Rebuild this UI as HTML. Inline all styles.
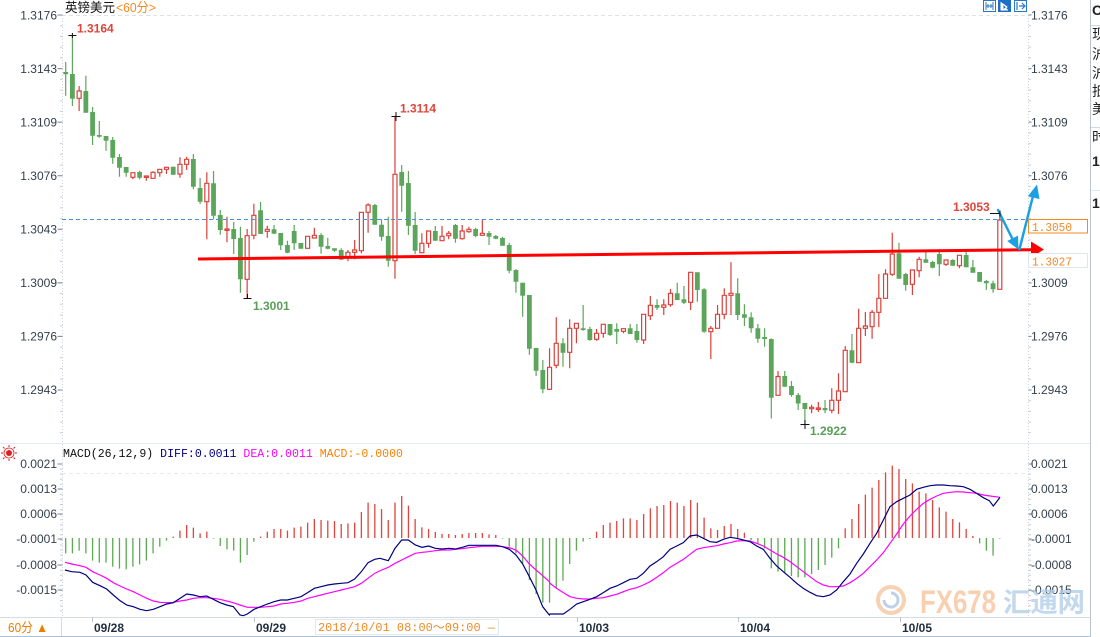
<!DOCTYPE html>
<html><head><meta charset="utf-8">
<style>
html,body{margin:0;padding:0;background:#fff;width:1100px;height:637px;overflow:hidden}
svg{display:block}
text{font-family:"Liberation Sans","Noto Sans CJK SC",sans-serif}
.ax{font-size:12px;fill:#34404c}
.mono{font-family:"Liberation Mono","Noto Sans CJK SC",monospace}
</style></head><body>
<svg id="s" width="1100" height="637" viewBox="0 0 1100 637" xmlns="http://www.w3.org/2000/svg">
<rect width="1100" height="637" fill="#fff"/>
<!-- grid / frame -->
<line x1="62" y1="15.5" x2="1028" y2="15.5" stroke="#dde2e7" stroke-dasharray="4,3"/>
<line x1="62" y1="473.5" x2="1028" y2="473.5" stroke="#e8ecf0" stroke-dasharray="4,3"/>
<line x1="0" y1="443.5" x2="1090" y2="443.5" stroke="#e6ebf0"/>
<line x1="62.5" y1="15" x2="62.5" y2="617" stroke="#cfd8e1" stroke-dasharray="1,2"/>
<line x1="1028.5" y1="15" x2="1028.5" y2="617" stroke="#cfd8e1" stroke-dasharray="1,2"/>
<g id="ticks" stroke="#9aa6b2" stroke-width="1"></g>

<!-- header -->
<text x="65" y="12" font-size="13" fill="#111" textLength="50" lengthAdjust="spacingAndGlyphs">英镑美元</text>
<text x="116" y="12" font-size="13" fill="#f08a1c" textLength="40" lengthAdjust="spacingAndGlyphs">&lt;60分&gt;</text>

<!-- top right icons -->
<g>
<rect x="983.5" y="0.5" width="12" height="11" fill="#fff" stroke="#2a77c9"/>
<path d="M986 2v8M993 2v8M986 6h7M988 4v4M991 4v4" stroke="#2a77c9" stroke-width="1"/>
<rect x="998" y="0" width="13" height="12" fill="#1f6fc5"/>
<path d="M1001 2v8h7M1003 4l4 3-4 3z" stroke="#fff" fill="#fff" stroke-width="1"/>
<rect x="1014.5" y="0.5" width="12" height="11" fill="#fff" stroke="#2a77c9"/>
<path d="M1017 2v8M1019 6h6M1022 3l3 3-3 3" stroke="#2a77c9" fill="none" stroke-width="1.2"/>
</g>

<!-- left price labels -->
<g class="ax" text-anchor="end">
<text x="57" y="19.5">1.3176</text>
<text x="57" y="73">1.3143</text>
<text x="57" y="126.5">1.3109</text>
<text x="57" y="180">1.3076</text>
<text x="57" y="233.5">1.3043</text>
<text x="57" y="287">1.3009</text>
<text x="57" y="340.5">1.2976</text>
<text x="57" y="394">1.2943</text>
</g>
<!-- right price labels -->
<g class="ax">
<text x="1031" y="19.5">1.3176</text>
<text x="1031" y="73">1.3143</text>
<text x="1031" y="126.5">1.3109</text>
<text x="1031" y="180">1.3076</text>
<text x="1031" y="287">1.3009</text>
<text x="1031" y="340.5">1.2976</text>
<text x="1031" y="394">1.2943</text>
</g>

<!-- MACD labels -->
<g class="ax" text-anchor="end">
<text x="57" y="468">0.0021</text>
<text x="57" y="493">0.0013</text>
<text x="57" y="518">0.0006</text>
<text x="57" y="543">-0.0001</text>
<text x="57" y="569">-0.0008</text>
<text x="57" y="594">-0.0015</text>
</g>
<g class="ax">
<text x="1031" y="468">0.0021</text>
<text x="1031" y="493">0.0013</text>
<text x="1031" y="518">0.0006</text>
<text x="1031" y="543">-0.0001</text>
<text x="1031" y="569">-0.0008</text>
<text x="1031" y="594">-0.0015</text>
</g>

<!-- MACD header -->
<g transform="translate(9,453)">
<circle r="3" fill="#e02020"/>
<circle r="5" fill="none" stroke="#e02020" stroke-width="0.8"/>
<path d="M0 -8v2M0 6v2M-8 0h2M6 0h2M-6 -6l1.5 1.5M4.5 4.5l1.5 1.5M6 -6l-1.5 1.5M-4.5 4.5l-1.5 1.5" stroke="#e02020" stroke-width="1"/>
</g>
<text class="mono" x="63" y="457" font-size="11.6" textLength="340" lengthAdjust="spacingAndGlyphs"><tspan fill="#111">MACD(26,12,9) </tspan><tspan fill="#000080">DIFF:0.0011 </tspan><tspan fill="#ff00ff">DEA:0.0011 </tspan><tspan fill="#ff8000">MACD:-0.0000</tspan></text>

<!-- candles and macd (generated shapes) -->
<g id="cg"></g>
<g id="mg"></g>

<!-- 1.3050 dashed line -->
<line x1="62" y1="219.5" x2="1028" y2="219.5" stroke="#4a8ad8" stroke-dasharray="4,3" stroke-width="1"/>

<!-- red trend line -->
<line x1="198" y1="259" x2="1032" y2="249.7" stroke="#ff0000" stroke-width="3"/>
<polygon points="1044,249.5 1031,241.5 1031,257.5" fill="#ff0000"/>

<!-- blue arrows -->
<g stroke="#1ba1e2" stroke-width="2.5" fill="#1ba1e2" stroke-linecap="round">
<line x1="998" y1="210" x2="1013" y2="240"/>
<polygon points="1018.5,249.5 1007.2,241 1018,235.6" stroke="none"/>
<line x1="1019.5" y1="249" x2="1033" y2="196"/>
<polygon points="1037,184.5 1039.5,199.1 1027.9,196.1" stroke="none"/>
</g>

<!-- price boxes -->
<rect x="1028.5" y="219.5" width="59" height="13.5" fill="#fff" stroke="#f08a24"/>
<text class="mono" x="1032" y="231" font-size="12" fill="#f08a24" textLength="40" lengthAdjust="spacingAndGlyphs">1.3050</text>
<rect x="1028.5" y="253.5" width="59" height="14" fill="#fff" stroke="#dfe5ea"/>
<text class="mono" x="1032" y="265.5" font-size="12" fill="#f08a24" textLength="40" lengthAdjust="spacingAndGlyphs">1.3027</text>

<!-- high/low markers -->
<g stroke="#111" stroke-width="1">
<path d="M68.4 35.5h8M72.4 33v5"/>
<path d="M391.5 116.5h9M396 112v9"/>
<path d="M243.5 298.5h8M247.5 294v4.5"/>
<path d="M800.5 424.5h9M805 420v9"/>
<path d="M990 213.5h10M1000 210.5v6"/>
</g>
<g font-size="12" font-weight="bold">
<text x="77" y="32.5" fill="#e0453a">1.3164</text>
<text x="400" y="112.5" fill="#e0453a">1.3114</text>
<text x="253" y="310" fill="#5a9e5a">1.3001</text>
<text x="810" y="435" fill="#5a9e5a">1.2922</text>
<text x="953" y="211" fill="#e0453a">1.3053</text>
</g>

<!-- watermark -->
<g opacity="0.75">
<circle cx="891" cy="600" r="13" fill="none" stroke="#f5c29c" stroke-width="4"/>
<path d="M884 600a7 7 0 1 0 7 -7" fill="none" stroke="#a9c2e0" stroke-width="3"/>
<text x="920" y="613" font-size="32" font-weight="bold" fill="#f8bf95" textLength="76" lengthAdjust="spacingAndGlyphs">FX678</text>
<text x="1003" y="612" font-size="27" font-weight="bold" fill="#aecbe8" textLength="82" lengthAdjust="spacingAndGlyphs" font-family="'Noto Sans CJK SC',sans-serif">汇通网</text>
</g>

<!-- bottom axis -->
<line x1="0" y1="617.5" x2="1090" y2="617.5" stroke="#d3dbe3"/>
<line x1="61.5" y1="617" x2="61.5" y2="637" stroke="#d3dbe3"/>
<line x1="0" y1="636.5" x2="1100" y2="636.5" stroke="#a9c0da"/>
<text x="8" y="632" font-size="13" fill="#f07c00" textLength="40" lengthAdjust="spacingAndGlyphs">60分 ▲</text>
<g stroke="#b7c2cd">
<line x1="92.5" y1="617" x2="92.5" y2="622"/>
<line x1="254.5" y1="617" x2="254.5" y2="622"/>
<line x1="577.5" y1="617" x2="577.5" y2="622"/>
<line x1="738.5" y1="617" x2="738.5" y2="622"/>
<line x1="900.5" y1="617" x2="900.5" y2="622"/>
</g>
<g font-size="12" font-weight="bold" fill="#1f2d3d">
<text x="94" y="632">09/28</text>
<text x="256" y="632">09/29</text>
<text x="579" y="632">10/03</text>
<text x="740" y="632">10/04</text>
<text x="902" y="632">10/05</text>
</g>
<rect x="315.5" y="619.5" width="183" height="15" fill="#fff" stroke="#e3e8ed"/>
<text class="mono" x="318" y="631" font-size="11.5" fill="#f08a24" textLength="177" lengthAdjust="spacingAndGlyphs">2018/10/01 08:00～09:00 —</text>

<!-- right panel -->
<rect x="1090" y="0" width="10" height="637" fill="#fff"/>
<line x1="1090.5" y1="0" x2="1090.5" y2="637" stroke="#b9c5d1"/>
<line x1="1091" y1="25.5" x2="1100" y2="25.5" stroke="#d0d8e0"/>
<line x1="1091" y1="127.5" x2="1100" y2="127.5" stroke="#d0d8e0"/>
<line x1="1091" y1="190.5" x2="1100" y2="190.5" stroke="#e3e8ed"/>
<g font-size="14" fill="#222">
<text x="1092" y="15" font-weight="bold">C</text>
<text x="1092" y="39">现</text>
<text x="1092" y="59">沪</text>
<text x="1092" y="78">沪</text>
<text x="1092" y="96">抵</text>
<text x="1092" y="114">美</text>
<text x="1092" y="142">时</text>
<text x="1092" y="166" font-weight="bold">1</text>
<text x="1092" y="208" font-weight="bold">1</text>
</g>
</svg>
<script>
(function(){
var NS="http://www.w3.org/2000/svg";
function X(n){return 65.7+6.72*n;}
function P(parent,d,attrs){var p=document.createElementNS(NS,"path");p.setAttribute("d",d);for(var k in attrs)p.setAttribute(k,attrs[k]);parent.appendChild(p);}
var C=[[72,74.3,62,95.7,'g'],[74,98.7,35,106,'g'],[91,98.3,86,111,'r'],[91,112.7,75.7,112.7,'g'],[112,135.7,107,145,'g'],[135,136.7,121,137.7,'g'],[136,140.7,136,150.7,'g'],[140,157.7,137,163.7,'g'],[157,167.7,154,176.7,'g'],[167,172.7,167,176.7,'g'],
[172.7,177.3,172.7,179.3,'r'],[172,177.7,170.7,179.3,'g'],[176,177.3,176,180.7,'r'],[172.3,178.3,171.3,178.3,'r'],[169.3,172.7,169.3,176.7,'r'],[167.3,169.3,166.7,174,'r'],[166.7,174.7,166.7,174.7,'g'],[164.3,174,157.3,177.7,'r'],[159.3,164.3,156.7,170,'r'],[159,186.7,154,189.3,'g'],
[188,201.7,178,204,'g'],[183.3,201.7,172.3,239.3,'r'],[183.3,215.7,171,219.3,'g'],[215,230,210,234.7,'g'],[229,229.7,216.7,242.3,'r'],[229,239,222,254,'g'],[238,279.3,226.7,292.7,'g'],[235.7,279.3,229,298.3,'r'],[215.3,235.3,203.7,239.3,'r'],[210.3,234,202,234,'g'],
[229.3,231.3,225.7,237.7,'r'],[229.3,233.7,225,233.7,'g'],[233,245.3,233,250,'g'],[245,252.7,240.7,253.3,'g'],[231,243.3,225,250,'g'],[243,248.7,243,248.7,'g'],[236.3,248.3,236.3,248.3,'r'],[235.3,238,227.7,238,'r'],[235,246.7,233.3,253.7,'g'],[246,248.7,237.7,249.3,'g'],
[248.3,250.7,248.3,251.7,'g'],[250,259.7,248.3,259.7,'g'],[252.3,256.7,250,261.3,'r'],[250,252.3,240,259.3,'r'],[212.3,250.7,212.3,253.3,'r'],[205,212.3,203.3,232.7,'r'],[205,224.7,204,224.7,'g'],[224.7,236.7,219.3,240.7,'g'],[236,260.7,216.7,266.7,'g'],[174.3,260.7,115.7,278.7,'r'],
[172,185.7,165,211.7,'g'],[183,225.7,171,235,'g'],[225,250.7,212,254,'g'],[243.3,252.7,233.3,253.3,'r'],[231,243.3,231,247.7,'r'],[231,240.7,226,240.7,'g'],[236.3,240.7,226,240.7,'r'],[233.3,235.7,231,239.3,'r'],[225,238.7,224,242.7,'g'],[231,238.7,225,239.7,'r'],
[229.3,231.7,226.7,232.7,'r'],[229,236,227.7,237.3,'g'],[233.3,235.3,219.3,235.3,'r'],[233,236.7,231,245,'g'],[236,238.7,235,239.3,'g'],[238,245.7,236.7,245.7,'g'],[245,270.7,242.7,273.3,'g'],[270,281.7,269.3,292.7,'g'],[282.7,295.7,282.7,316.7,'g'],[295,348.7,295,354.7,'g'],
[348,370.7,348,376,'g'],[370,389.3,360,393.3,'g'],[367.3,389.3,348.3,390,'r'],[343.3,365.3,317.3,368.3,'r'],[343.3,352.7,338.3,366.7,'g'],[328.3,352.3,319.3,368.3,'r'],[323.3,328.3,323.3,343.3,'r'],[328.3,330,305,330.7,'g'],[329,340,326.7,340.7,'g'],[333.3,339.3,329,340.7,'r'],
[324.3,333.3,324.3,337.7,'r'],[324,335,324,336,'g'],[329,331.7,323.3,344,'g'],[328.7,331.3,328.7,333.3,'r'],[328.3,334,324,334,'g'],[331,340,324,342.7,'g'],[314.3,340,314.3,344,'r'],[305.3,315.7,296,320,'r'],[305,307.7,299.3,310,'g'],[305,307.3,299.3,315,'r'],
[293.3,304.7,289,306.7,'r'],[293.3,300,282.7,300,'g'],[299.3,302.7,286,304,'g'],[272.3,302.3,272.3,310,'r'],[272.3,290,272.3,301.7,'g'],[289.3,331.7,288.3,332.7,'g'],[328.3,331.7,326,359,'r'],[314.3,328.3,305,328.3,'r'],[295.3,314.3,288.3,319.3,'r'],[293.3,295.3,262.3,315,'r'],
[293.3,315,278.3,320,'g'],[314.3,317.7,304.3,326,'g'],[317.3,328.3,312.3,332.7,'g'],[328.3,338.7,324,342.7,'g'],[337,339,328.3,346.7,'g'],[339,397.7,338.5,418.5,'g'],[376.5,395.3,371,395.3,'r'],[376,386.7,371,386.7,'g'],[386,395,381,396.7,'g'],[395,403.5,393,410,'g'],
[403,409,403,424,'g'],[407.3,408.3,404.7,413.3,'r'],[408,408.7,402,412,'r'],[408,410.3,400,413.3,'g'],[400.3,410.3,388.3,413.3,'r'],[391,400.3,373.3,414,'r'],[350.3,391.7,346,391.7,'r'],[350.3,362.7,334,363.3,'g'],[328.3,362.7,308.7,362.7,'r'],[326,328.3,312,336,'r'],
[312.3,326.7,310,338.7,'r'],[298.3,312.3,274,327.3,'r'],[274,298.3,269.3,298.3,'r'],[254,274.3,232.7,276,'r'],[253.3,278.7,242.7,278.7,'g'],[274,285,272.7,290.7,'g'],[270,284.3,270,295,'r'],[259.3,270.7,256.7,277.3,'r'],[259.3,262.7,250.7,262.7,'g'],[262,267.7,260.7,268.3,'g'],
[254,264.3,250.7,276,'g'],[260,264.3,260,266,'r'],[260,265.7,259.3,265.7,'g'],[255.3,265.7,255.3,268.3,'r'],[255,267.3,250.7,267.3,'g'],[267.3,272.7,260,272.7,'g'],[272,281.7,272,281.7,'g'],[281,283.3,280,290,'g'],[283.3,289.3,280.7,292.7,'g'],[220,289.3,214,289.3,'r']];
var gW="",gB="",rW="",rB="";
C.forEach(function(c,n){var x=X(n),t=c[0],b=c[1],h=c[2],l=c[3];
 if(c[4]=='g'){gW+="M"+x.toFixed(2)+" "+h+"V"+l;var hh=Math.max(b-t,1.2);gB+="M"+(x-2.4).toFixed(2)+" "+t+"h4.8v"+hh.toFixed(2)+"h-4.8z";}
 else{if(h<t)rW+="M"+x.toFixed(2)+" "+h+"V"+t;if(l>b)rW+="M"+x.toFixed(2)+" "+b+"V"+l;var hh=Math.max(b-t,1.4);rB+="M"+(x-2).toFixed(2)+" "+t+"h4v"+hh.toFixed(2)+"h-4z";}
});
var cg=document.getElementById("cg");
P(cg,gW,{stroke:"#5ca65c","stroke-width":"1.2",fill:"none"});
P(cg,gB,{fill:"#5ca65c",stroke:"none"});
P(cg,rW,{stroke:"#d9403a","stroke-width":"1.2",fill:"none"});
P(cg,rB,{fill:"#fff",stroke:"#d9403a","stroke-width":"1.2"});

// MACD histogram
var H1=[250,250,242,250,272,278,278,290,296,298,290,283,272,250,230,212,200,182,165,173,190,185,205,228,238,242,278,255,215,200,185,177,177,182,173,170,158,147,150,152,153,162,160,158,126,98,102,117,150,98,78,107,147,172,177,186,192,192,195,192,189,189,189,193,195,206,230,250,280,330,372,398,398];
var H2=[385,362,312,272,245,237,215,195,188,183,175,175,180,162,145,138,135,123,128,138,120,128,173,205,210,198,192,207,218,240,250,265,325,335,340,348,352,352,342,330,315,293,265,205,177,132,104,83,60,37,17,27,57,70,95,100,120,142,155,177,187,207,228,250,272,287,236];
var hv=[];H1.forEach(function(z){hv.push(470+z/3);});H2.forEach(function(z){hv.push(460+z/3);});
var base=538,hr="",hg="";
hv.forEach(function(y,n){var x=X(n).toFixed(2);if(Math.abs(y-base)<0.4)y=base+(y<base?-0.6:0.6);
 if(y<base)hr+="M"+x+" "+base+"V"+y.toFixed(2);else hg+="M"+x+" "+base+"V"+y.toFixed(2);});
var mg=document.getElementById("mg");
P(mg,hr,{stroke:"#e0443c","stroke-width":"1.3",fill:"none"});
P(mg,hg,{stroke:"#5aaa50","stroke-width":"1.3",fill:"none"});

var D7=[[45,300],[65,305],[90,307],[108,315],[128,337],[150,347],[170,357],[190,375],[210,392],[230,405],[250,410],[270,418],[290,422],[310,418],[330,410],[350,402],[370,398],[390,385],[410,372],[430,375],[450,380],[470,378],[490,388],[510,398],[530,405],[550,410],[570,435],[580,437],[592,432],[612,418],[632,410],[652,402],[672,395],[692,390],[712,390],[733,385],[753,380],[773,368],[793,355],[813,350],[833,345],[853,342],[874,340],[894,338],[914,327],[934,305],[954,278],[974,268],[990,265],[1015,272],[1035,235],[1055,210],[1075,210],[1096,225],[1116,232],[1136,228],[1156,235],[1176,237],[1196,235],[1217,237],[1237,232],[1257,226],[1277,226],[1297,226],[1317,226],[1338,226],[1358,230],[1378,238],[1398,255],[1418,282],[1438,320],[1458,360],[1478,410],[1498,435]];
var D8=[[0,462],[40,462],[60,448],[80,432],[100,425],[120,418],[140,410],[160,398],[180,385],[200,378],[220,368],[240,358],[260,355],[280,340],[300,318],[320,305],[340,290],[360,268],[380,258],[400,248],[420,228],[440,225],[460,235],[480,245],[500,247],[520,238],[540,232],[560,235],[580,240],[600,245],[620,258],[640,268],[660,295],[680,318],[700,335],[720,352],[740,370],[760,385],[780,397],[800,407],[820,410],[840,405],[860,390],[880,365],[900,342],[920,310],[940,282],[960,250],[980,220],[1000,180],[1020,140],[1040,125],[1060,115],[1080,105],[1100,88],[1120,82],[1140,77],[1160,75],[1180,75],[1200,77],[1220,78],[1240,80],[1260,88],[1280,100],[1300,113],[1318,122],[1330,138],[1350,112]];
var E7=[[45,277],[65,282],[90,287],[108,292],[128,305],[150,315],[170,325],[190,338],[210,348],[230,357],[250,365],[270,375],[290,385],[310,393],[330,397],[350,398],[370,397],[390,393],[410,390],[430,385],[450,383],[470,383],[490,385],[510,388],[530,393],[550,398],[570,405],[592,412],[612,412],[632,412],[652,410],[672,408],[692,402],[712,400],[733,397],[753,393],[773,385],[793,380],[813,375],[833,370],[853,365],[874,360],[894,355],[914,350],[934,340],[954,325],[974,310],[995,300],[1015,292],[1035,280],[1055,270],[1075,260],[1096,250],[1116,247],[1136,245],[1156,242],[1176,240],[1196,240],[1217,238],[1237,236],[1257,233],[1277,231],[1297,229],[1317,229],[1338,229],[1358,230],[1378,233],[1398,240],[1418,258],[1438,282],[1458,300],[1478,317],[1498,335]];
var E8=[[0,370],[20,385],[40,398],[60,410],[80,415],[100,417],[120,417],[140,415],[160,413],[180,408],[200,403],[220,395],[240,388],[260,383],[280,375],[300,365],[320,352],[340,338],[360,322],[380,310],[400,298],[420,283],[440,268],[460,263],[480,260],[500,257],[520,252],[540,248],[560,243],[580,242],[600,243],[620,250],[640,258],[660,270],[680,282],[700,292],[720,305],[740,320],[760,335],[780,350],[800,365],[820,375],[840,380],[860,380],[880,378],[900,368],[920,355],[940,340],[960,320],[980,300],[1000,278],[1020,250],[1040,222],[1060,192],[1080,168],[1100,148],[1120,130],[1140,118],[1160,108],[1180,100],[1200,97],[1220,95],[1240,96],[1260,98],[1280,100],[1300,105],[1320,108],[1350,112]];
function line(a7,a8){var pts=[];a7.forEach(function(p){pts.push((50+p[0]/3).toFixed(2)+" "+(470+p[1]/3).toFixed(2));});a8.forEach(function(p){pts.push((550+p[0]/3).toFixed(2)+" "+(460+p[1]/3).toFixed(2));});return "M"+pts.join("L");}
P(mg,line(E7,E8),{stroke:"#ff00ff","stroke-width":"1.2",fill:"none"});
P(mg,line(D7,D8),{stroke:"#000080","stroke-width":"1.2",fill:"none"});

// axis ticks
var tk=document.getElementById("ticks"),td="";
for(var y=15;y<=440;y+=53.57/5){td+="M60 "+y.toFixed(1)+"h2.5M1028.5 "+y.toFixed(1)+"h2.5";}
for(var y2=464;y2<=615;y2+=25.3/5){td+="M60 "+y2.toFixed(1)+"h2.5M1028.5 "+y2.toFixed(1)+"h2.5";}
P(tk,td,{stroke:"#c3ccd6","stroke-width":"1"});
var md="";[15,68.6,122.1,175.7,229.3,282.9,336.4,390,464,489,514,539,565,590].forEach(function(y){md+="M57.5 "+y+"h5M1028.5 "+y+"h3";});
P(tk,md,{stroke:"#7d8996","stroke-width":"1"});
})();
</script>
</body></html>
